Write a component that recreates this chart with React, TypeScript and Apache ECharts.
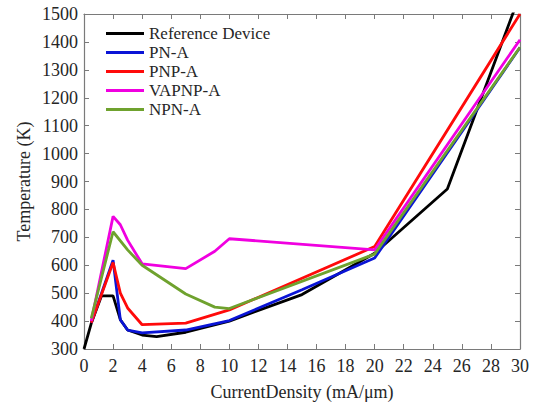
import React, { useEffect, useRef } from "react";
import * as echarts from "echarts";

const xTicks = [0, 2, 4, 6, 8, 10, 12, 14, 16, 18, 20, 22, 24, 26, 28, 30];
const yTicks = [300, 400, 500, 600, 700, 800, 900, 1000, 1100, 1200, 1300, 1400, 1500];
const xAxisTitle = "CurrentDensity (mA/\u03bcm)";
const yAxisTitle = "Temperature (K)";
const seriesNames = ["Reference Device", "PN-A", "PNP-A", "VAPNP-A", "NPN-A"];
const seriesColors = ["#000000", "#0a14d6", "#ff0a0a", "#f000e0", "#6fa22e"];

const refX = [0, 0.5, 1.2, 2, 2.5, 3, 4, 5, 7, 10, 15, 20, 25, 30];
const refY = [300, 392, 490, 490, 405, 368, 350, 344, 360, 400, 495, 643, 873, 1570];

const pnX = [0.5, 2, 2.5, 3, 4, 7, 10, 15, 20, 30];
const pnY = [394, 618, 405, 368, 358, 368, 402, 512, 626, 1380];

const pnpX = [0.5, 2, 2.5, 3, 4, 7, 10, 20, 30];
const pnpY = [394, 610, 500, 447, 387, 393, 440, 667, 1500];

const vapnpX = [0.5, 2, 2.5, 3, 4, 7, 9, 10, 20, 30];
const vapnpY = [400, 775, 745, 690, 605, 588, 650, 695, 655, 1408];

const npnX = [0.5, 2, 3, 4, 7, 9, 10, 20, 30];
const npnY = [410, 720, 655, 600, 497, 450, 445, 640, 1381];

const allX = [refX, pnX, pnpX, vapnpX, npnX];
const allY = [refY, pnY, pnpY, vapnpY, npnY];

const FONT = "Liberation Serif";
const AXIS_GRAY = "#7a7a7a";
const TEXT = "#262626";

export default function App() {
  const ref = useRef<HTMLDivElement>(null);
  useEffect(() => {
    if (!ref.current) return;
    const chart = echarts.init(ref.current, undefined, { renderer: "svg" });
    const series = seriesNames.map((name, i) => ({
      name,
      type: "line",
      data: allX[i].map((x, k) => [x, allY[i][k]]),
      showSymbol: false,
      symbol: "none",
      clip: true,
      lineStyle: { color: seriesColors[i], width: 2.8 },
      itemStyle: { color: seriesColors[i] },
      z: 2 + i,
    }));
    const boxAxis = {
      axisLine: { show: true, onZero: false, lineStyle: { color: AXIS_GRAY, width: 1.2 } },
      axisTick: { show: true, inside: true, length: 5, lineStyle: { color: AXIS_GRAY } },
      axisLabel: { show: false },
      splitLine: { show: false },
    };
    chart.setOption({
      animation: false,
      backgroundColor: "#ffffff",
      textStyle: { fontFamily: FONT },
      grid: { left: 84, right: 18, top: 14, bottom: 61, containLabel: false },
      legend: {
        left: 106,
        top: 24,
        orient: "vertical",
        icon: "rect",
        itemWidth: 38,
        itemHeight: 3,
        itemGap: 0,
        padding: 0,
        textStyle: { fontFamily: FONT, fontSize: 17, color: TEXT, lineHeight: 19 },
        data: seriesNames,
      },
      xAxis: [
        { type: "value", min: 0, max: 30, interval: 2, ...boxAxis },
        { type: "value", position: "top", min: 0, max: 30, interval: 2, ...boxAxis },
      ],
      yAxis: [
        { type: "value", min: 300, max: 1500, interval: 100, ...boxAxis },
        { type: "value", position: "right", min: 300, max: 1500, interval: 100, ...boxAxis },
      ],
      series,
    });

    const px = (v: number) => chart.convertToPixel({ xAxisIndex: 0 }, v) as number;
    const py = (v: number) => chart.convertToPixel({ yAxisIndex: 0 }, v) as number;
    const left = px(xTicks[0]);
    const right = px(xTicks[xTicks.length - 1]);
    const bottom = py(yTicks[0]);
    const top = py(yTicks[yTicks.length - 1]);
    const ts = { fontFamily: FONT, fontSize: 18, color: TEXT, fontWeight: "normal" as const };
    const titles: any[] = [];
    xTicks.forEach((v) => {
      titles.push({
        text: String(v),
        left: px(v),
        top: bottom + 8,
        padding: 0,
        textAlign: "center",
        textVerticalAlign: "top",
        textStyle: ts,
      });
    });
    yTicks.forEach((v) => {
      titles.push({
        text: String(v),
        left: left - 6,
        top: py(v),
        padding: 0,
        textAlign: "right",
        textVerticalAlign: "middle",
        textStyle: ts,
      });
    });
    titles.push({
      text: xAxisTitle,
      left: (left + right) / 2,
      top: bottom + 34,
      padding: 0,
      textAlign: "center",
      textVerticalAlign: "top",
      textStyle: ts,
    });
    chart.setOption({
      title: titles,
      graphic: [
        {
          type: "text",
          x: left - 60,
          y: (top + bottom) / 2,
          rotation: Math.PI / 2,
          silent: true,
          style: { fontFamily: FONT, fontSize: 18, fill: TEXT, text: yAxisTitle, align: "center", verticalAlign: "middle" },
        },
      ],
    });
    return () => chart.dispose();
  }, []);
  return (
    <div
      ref={ref}
      style={{ position: "fixed", left: 0, top: 0, width: 538, height: 410, background: "#fff" }}
    />
  );
}
